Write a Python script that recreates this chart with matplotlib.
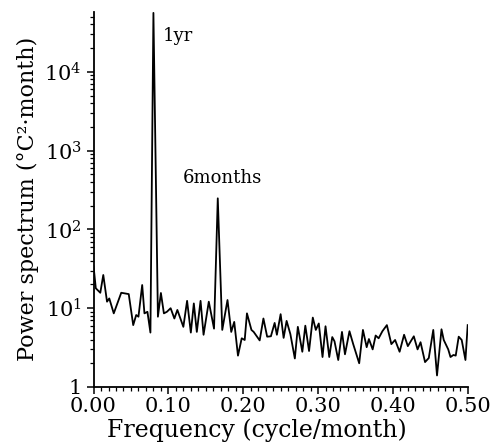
import numpy as np
import matplotlib
matplotlib.use("Agg")
import matplotlib.pyplot as plt
from matplotlib.ticker import MultipleLocator, LogLocator, FixedLocator, FixedFormatter

# spectrum
freq = [0.000, 0.003, 0.009, 0.013, 0.018, 0.021, 0.027, 0.037, 0.042, 0.047,
        0.053, 0.057, 0.060, 0.065, 0.068, 0.072, 0.076, 0.080, 0.086, 0.090,
        0.094, 0.098, 0.103, 0.108, 0.112, 0.120, 0.125, 0.130, 0.134, 0.138,
        0.143, 0.147, 0.154, 0.161, 0.166, 0.172, 0.179, 0.184, 0.188, 0.193,
        0.198, 0.202, 0.205, 0.211, 0.214, 0.222, 0.227, 0.232, 0.237, 0.242,
        0.245, 0.250, 0.254, 0.258, 0.263, 0.269, 0.273, 0.279, 0.283, 0.288,
        0.293, 0.297, 0.301, 0.306, 0.310, 0.315, 0.319, 0.322, 0.327, 0.332,
        0.336, 0.342, 0.347, 0.355, 0.360, 0.365, 0.368, 0.373, 0.377, 0.381,
        0.386, 0.392, 0.398, 0.403, 0.409, 0.415, 0.420, 0.428, 0.433, 0.437,
        0.443, 0.448, 0.454, 0.459, 0.465, 0.468, 0.474, 0.477, 0.481, 0.484,
        0.488, 0.492, 0.497, 0.500]
power = [34, 17.9, 15.7, 26.4, 12.1, 13.3, 8.6, 15.7, 15.4, 15.1,
         6.1, 8.2, 7.8, 19.7, 8.6, 9.0, 4.9, 56000, 7.8, 15.6,
         8.6, 9.0, 10.0, 7.4, 9.5, 5.8, 12.4, 4.9, 11.5, 5.0,
         12.4, 4.6, 12.1, 5.5, 248, 5.3, 12.7, 5.0, 6.7, 2.5,
         4.15, 3.95, 8.6, 5.3, 5.0, 3.9, 7.4, 4.35, 4.4, 6.5,
         4.6, 8.4, 4.2, 6.9, 4.7, 2.3, 5.8, 2.8, 6.0, 2.86,
         7.6, 5.3, 6.4, 2.4, 5.9, 2.4, 4.3, 3.8, 2.2, 5.0,
         2.6, 5.1, 3.5, 2.0, 5.3, 3.2, 4.06, 3.0, 4.5, 4.15,
         5.1, 6.1, 3.5, 3.95, 2.8, 4.6, 3.3, 4.4, 3.0, 3.7,
         2.07, 2.33, 5.3, 1.4, 5.4, 3.95, 3.0, 2.4, 2.55, 2.5,
         4.35, 3.95, 2.2, 6.1]

xticks = [0.0, 0.1, 0.2, 0.3, 0.4, 0.5]
xticklabels = ["0.00", "0.10", "0.20", "0.30", "0.40", "0.50"]
yticks = [1, 10, 100, 1000, 10000]
yticklabels = ["1", "$10^1$", "$10^2$", "$10^3$", "$10^4$"]

plt.rcParams["font.family"] = ["DejaVu Serif"]
plt.rcParams["mathtext.fontset"] = "dejavuserif"

fig = plt.figure(figsize=(5.03, 4.48), dpi=100)
ax = fig.add_axes([0.186, 0.1362, 0.7438, 0.8377])

ax.plot(freq, power, color="black", lw=1.3)

ax.set_yscale("log")
ax.set_xlim(0, 0.5)
ax.set_ylim(1, 5.8e4)

ax.xaxis.set_major_locator(FixedLocator(xticks))
ax.xaxis.set_major_formatter(FixedFormatter(xticklabels))
ax.xaxis.set_minor_locator(MultipleLocator(0.01))
ax.yaxis.set_major_locator(FixedLocator(yticks))
ax.yaxis.set_major_formatter(FixedFormatter(yticklabels))
ax.yaxis.set_minor_locator(LogLocator(base=10, subs=np.arange(2, 10)))
ax.yaxis.set_minor_formatter(plt.NullFormatter())

ax.tick_params(axis="both", which="major", direction="out", length=5,
               width=1.1, labelsize=15, color="black")
ax.tick_params(axis="both", which="minor", direction="out", length=3,
               width=0.9, color="black")
ax.tick_params(axis="x", which="major", pad=2)

for side in ["top", "right"]:
    ax.spines[side].set_visible(False)
for side in ["left", "bottom"]:
    ax.spines[side].set_linewidth(1.3)

ax.set_xlabel("Frequency (cycle/month)", fontsize=17, labelpad=0)
ax.xaxis.set_label_coords(0.436, -0.085)
ax.set_ylabel("Power spectrum (°C²·month)", fontsize=16, labelpad=4)

ax.text(0.093, 2.85e4, "1yr", fontsize=13, ha="left", va="center")
ax.text(0.1725, 450, "6months", fontsize=13, ha="center", va="center")

fig.savefig("out.png", dpi=100)
